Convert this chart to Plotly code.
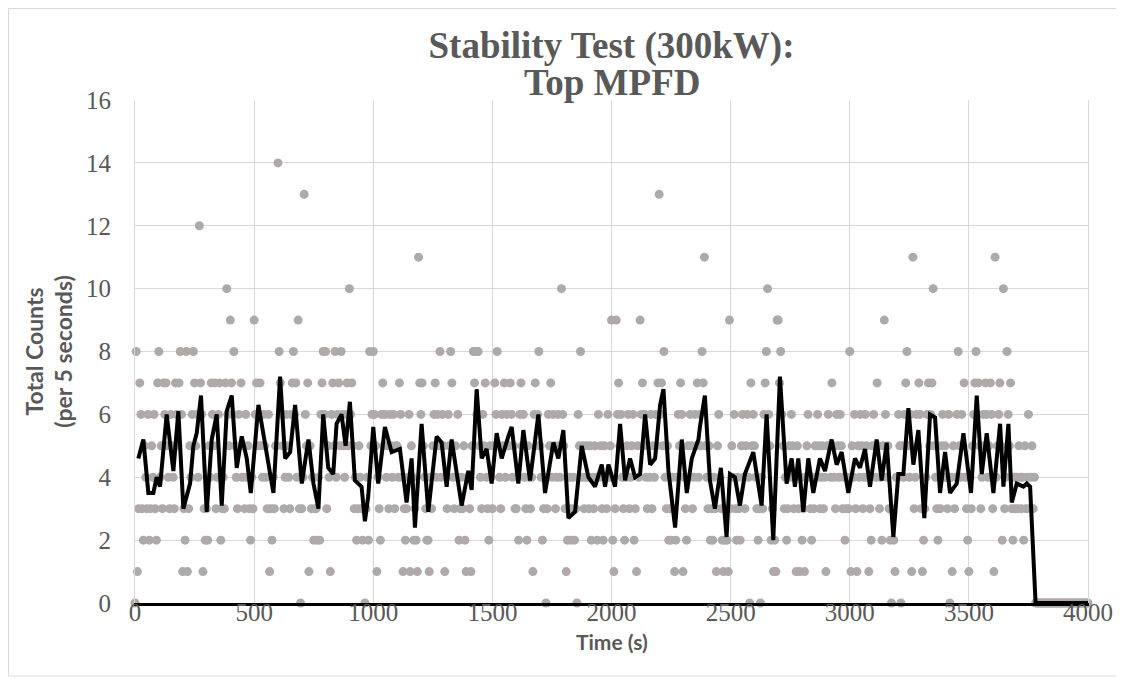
import plotly.graph_objects as go

# ---- scatter data: total counts per 5 s bin (t = 0, 5, 10, ...) ----
counts = (
    [0, 8, 1, 3, 7, 6, 3, 2, 5, 4, 3, 6, 2, 3, 5, 4, 6, 3, 2, 7] +        # 0-95
    [8, 4, 5, 3, 7, 6, 7, 5, 4, 3, 6, 5, 4, 3, 7, 6, 5, 7, 8, 6] +        # 100
    [1, 3, 2, 8, 1, 3, 5, 4, 6, 8, 7, 5, 6, 4, 12, 7, 6, 1, 3, 2] +       # 200
    [3, 2, 5, 4, 7, 6, 5, 7, 3, 4, 6, 7, 2, 3, 4, 3, 7, 10, 6, 5] +       # 300
    [9, 7, 6, 8, 5, 4, 3, 6, 5, 7, 4, 5, 3, 6, 4, 5, 3, 2, 4, 3] +        # 400
    [9, 6, 7, 5, 6, 7, 5, 4, 6, 5, 4, 3, 6, 1, 3, 2, 4, 3, 5, 5] +        # 500
    [14, 8, 7, 6, 5, 3, 4, 6, 5, 4, 3, 6, 7, 8, 6, 7, 4, 9, 3, 0] +       # 600
    [3, 4, 13, 6, 5, 7, 1, 5, 3, 4, 2, 3, 3, 2, 4, 2, 6, 7, 8, 6] +       # 700
    [8, 3, 5, 4, 1, 6, 7, 5, 8, 4, 6, 7, 5, 8, 6, 5, 4, 6, 7, 5] +        # 800
    [10, 6, 7, 5, 3, 4, 2, 3, 5, 4, 3, 2, 3, 0, 3, 4, 2, 8, 5, 6] +       # 900
    [8, 6, 5, 1, 4, 3, 2, 6, 7, 5, 6, 4, 5, 3, 6, 5, 4, 6, 3, 5] +        # 1000
    [5, 4, 7, 6, 4, 1, 3, 2, 3, 4, 6, 1, 5, 4, 2, 3, 2, 1, 11, 7] +       # 1100
    [6, 7, 5, 4, 3, 2, 2, 1, 4, 3, 5, 6, 7, 4, 6, 5, 8, 4, 6, 5] +        # 1200
    [1, 4, 3, 6, 5, 8, 7, 4, 3, 5, 4, 6, 2, 3, 4, 3, 5, 2, 1, 4] +        # 1300
    [4, 3, 1, 5, 8, 7, 8, 6, 8, 5, 4, 3, 6, 5, 7, 4, 3, 2, 5, 4] +        # 1400
    [3, 5, 7, 6, 8, 5, 4, 3, 6, 5, 7, 4, 6, 5, 5, 7, 6, 4, 5, 3] +        # 1500
    [3, 4, 2, 6, 7, 5, 6, 4, 3, 2, 5, 4, 3, 4, 1, 6, 7, 5, 6, 8] +        # 1600
    [5, 4, 2, 3, 4, 0, 3, 6, 5, 7, 4, 6, 5, 3, 4, 6, 5, 4, 10, 6] +       # 1700
    [5, 3, 1, 2, 3, 4, 2, 3, 4, 2, 3, 0, 6, 5, 8, 4, 5, 3, 4, 5] +        # 1800
    [4, 3, 5, 2, 4, 3, 5, 4, 2, 6, 4, 5, 3, 2, 5, 4, 3, 6, 4, 5] +        # 1900
    [9, 2, 1, 3, 9, 6, 7, 5, 6, 4, 3, 2, 4, 5, 6, 3, 4, 5, 6, 2] +        # 2000
    [3, 1, 5, 4, 9, 6, 7, 5, 6, 4, 3, 5, 4, 6, 3, 5, 4, 6, 5, 7] +        # 2100
    [13, 6, 7, 5, 8, 4, 3, 5, 2, 3, 2, 4, 3, 1, 2, 4, 6, 5, 7, 6] +       # 2200
    [1, 4, 3, 2, 5, 4, 6, 5, 3, 4, 6, 5, 7, 4, 6, 5, 8, 7, 11, 5] +       # 2300
    [4, 3, 5, 2, 3, 2, 4, 3, 1, 5, 6, 4, 3, 2, 1, 2, 3, 2, 1, 9] +        # 2400
    [3, 5, 4, 6, 3, 2, 4, 3, 2, 5, 6, 4, 3, 5, 6, 4, 0, 7, 5, 6] +        # 2500
    [5, 4, 3, 2, 3, 0, 4, 3, 6, 7, 8, 10, 6, 5, 2, 3, 1, 2, 1, 9] +       # 2600
    [9, 7, 8, 6, 5, 3, 4, 2, 3, 5, 4, 6, 5, 3, 4, 1, 5, 3, 1, 4] +        # 2700
    [2, 3, 1, 4, 5, 6, 4, 3, 2, 4, 3, 5, 4, 6, 5, 3, 4, 5, 3, 4] +        # 2800
    [1, 5, 6, 5, 4, 7, 5, 4, 3, 6, 5, 4, 6, 5, 3, 4, 2, 3, 4, 3] +        # 2900
    [8, 1, 5, 4, 6, 3, 1, 5, 4, 6, 5, 3, 4, 6, 5, 4, 1, 3, 2, 5] +        # 3000
    [6, 5, 4, 7, 5, 3, 4, 2, 5, 9, 6, 4, 5, 3, 2, 0, 3, 2, 1, 4] +        # 3100
    [4, 6, 5, 0, 5, 4, 6, 7, 8, 5, 4, 6, 1, 11, 3, 4, 6, 5, 7, 6] +       # 3200
    [3, 1, 2, 3, 4, 6, 7, 5, 6, 7, 10, 5, 4, 3, 2, 4, 3, 5, 6, 4] +       # 3300
    [5, 4, 3, 6, 0, 4, 1, 5, 3, 4, 6, 8, 5, 4, 6, 5, 7, 4, 3, 2] +        # 3400
    [1, 4, 3, 5, 6, 7, 8, 6, 7, 5, 3, 4, 6, 5, 7, 6, 4, 5, 7, 6] +        # 3500
    [3, 1, 11, 4, 5, 6, 7, 5, 2, 10, 3, 4, 8, 6, 5, 7, 3, 2, 4, 3] +      # 3600
    [4, 3, 5, 4, 3, 4, 2, 5, 3, 4, 6, 3, 4, 5, 3, 4, 0, 0, 0, 0] +        # 3700
    [0] * 41                                                             # 3800-4000
)
bin_seconds = 5
times = [i * bin_seconds for i in range(len(counts))]

# ---- moving-average trend line ----
avg_t = [14, 35, 56, 77, 91, 105, 133, 161, 182, 203, 231, 245, 259, 277, 301, 322, 343, 364,
         385, 406, 427, 448, 469, 486, 518, 546, 581, 609, 630, 651, 672, 700, 728, 749, 770,
         790, 811, 832, 846, 867, 884, 902, 923, 951, 965, 979, 1000, 1021, 1049, 1077, 1112,
         1140, 1161, 1175, 1203, 1231, 1266, 1287, 1308, 1329, 1350, 1371, 1399, 1413, 1434,
         1455, 1476, 1497, 1518, 1539, 1567, 1581, 1609, 1630, 1658, 1693, 1721, 1756, 1777,
         1798, 1819, 1847, 1875, 1903, 1931, 1959, 1973, 1987, 2015, 2036, 2057, 2078, 2099,
         2120, 2141, 2162, 2183, 2204, 2218, 2239, 2267, 2295, 2316, 2337, 2365, 2371, 2392,
         2413, 2434, 2459, 2483, 2497, 2518, 2539, 2560, 2595, 2630, 2651, 2679, 2707, 2735,
         2756, 2770, 2784, 2805, 2826, 2847, 2875, 2896, 2924, 2945, 2966, 2994, 3022, 3043,
         3064, 3085, 3113, 3134, 3155, 3183, 3204, 3225, 3246, 3267, 3288, 3313, 3337, 3358,
         3379, 3400, 3421, 3449, 3477, 3509, 3533, 3554, 3575, 3603, 3631, 3645, 3666, 3680,
         3701, 3729, 3743, 3757, 3770, 3780, 4000]
avg_v = [4.6, 5.2, 3.5, 3.5, 4.0, 3.7, 6.0, 4.2, 6.1, 3.0, 3.8, 5.0, 5.4, 6.6, 2.9, 5.2, 6.0, 3.1,
         6.1, 6.6, 4.3, 5.3, 4.6, 3.5, 6.3, 5.0, 3.5, 7.2, 4.6, 4.8, 6.3, 3.8, 5.2, 3.8, 3.0,
         6.0, 4.3, 4.1, 5.7, 6.0, 5.0, 6.4, 3.9, 3.7, 2.6, 3.4, 5.6, 3.8, 5.6, 4.8, 4.9,
         3.2, 4.6, 2.4, 5.7, 2.9, 5.3, 5.1, 3.7, 5.2, 4.2, 3.1, 4.2, 3.6, 6.8,
         4.6, 4.9, 3.8, 5.4, 4.6, 5.3, 5.6, 3.8, 5.5, 3.9, 6.0, 3.5, 5.1, 4.6,
         5.5, 2.7, 2.9, 5.0, 4.0, 3.7, 4.4, 3.7, 4.4, 3.7, 5.7, 3.9, 4.6, 4.0,
         4.1, 6.0, 4.4, 4.6, 6.3, 6.8, 4.2, 2.4, 5.2, 3.5, 4.6, 5.2, 5.6, 6.6,
         3.9, 3.0, 4.3, 2.1, 4.1, 4.0, 3.1, 4.1, 4.8, 3.1, 6.0, 2.0, 7.2, 3.8,
         4.6, 3.7, 4.6, 2.9, 4.6, 3.5, 4.6, 4.2, 5.2, 4.4, 4.8, 3.5, 4.6, 4.3,
         4.9, 3.7, 5.2, 3.9, 5.1, 2.1, 4.1, 4.1, 6.2, 4.4, 5.5, 2.7, 6.0, 5.9,
         3.5, 4.8, 3.5, 3.8, 5.4, 3.5, 6.6, 4.1, 5.4, 3.5, 5.7, 3.7, 5.7, 3.2,
         3.8, 3.7, 3.8, 3.7, 1.2, 0.0, 0.0]

x_ticks = [0, 500, 1000, 1500, 2000, 2500, 3000, 3500, 4000]
y_ticks = [0, 2, 4, 6, 8, 10, 12, 14, 16]

# page has an 8px body margin, so the figure is laid out in its own coordinates
W, H = 1116, 671
L, T = 127, 92
pw, ph = 953, 503
R, B = W - L - pw, H - T - ph
plot_bottom = T + ph


def py(yfig):
    return (plot_bottom - yfig) / ph


fig = go.Figure()
fig.add_trace(go.Scatter(
    x=times, y=counts, mode="markers",
    marker=dict(color="#AEAAAA", size=9, line=dict(width=0)),
    cliponaxis=False, showlegend=False))
fig.add_trace(go.Scatter(
    x=avg_t, y=avg_v, mode="lines",
    line=dict(color="black", width=4),
    cliponaxis=False, showlegend=False))

title_font = dict(family="Liberation Serif", size=37, color="#595959")
axis_title_font = dict(family="Lato", size=23, color="#595959")
fig.update_layout(
    width=W, height=H,
    margin=dict(l=L, r=R, t=T, b=B, autoexpand=False),
    paper_bgcolor="white", plot_bgcolor="white",
    title=dict(
        text="<b>Stability Test (300kW):</b>",
        font=title_font,
        x=(L + pw / 2) / W, xanchor="center",
        y=1 - 37 / H, yanchor="middle", yref="container"),
    xaxis=dict(
        range=[0, 4000], tickvals=x_ticks, ticktext=[str(v) for v in x_ticks],
        showgrid=True, gridcolor="#D9D9D9", gridwidth=1, zeroline=False,
        showline=True, linecolor="black", linewidth=2.5,
        ticks="", ticklabelstandoff=-15,
        tickfont=dict(family="Liberation Serif", size=25, color="#595959"),
        automargin=False),
    yaxis=dict(
        range=[0, 16], tickvals=y_ticks, ticktext=[str(v) for v in y_ticks],
        showgrid=True, gridcolor="#D9D9D9", gridwidth=1, zeroline=False,
        showline=True, linecolor="#D9D9D9", linewidth=1, mirror=True,
        ticks="", ticklabelstandoff=18,
        tickfont=dict(family="Liberation Serif", size=25, color="#595959"),
        title=dict(text="<b>Total Counts<br>(per 5 seconds)</b>", standoff=6,
                   font=axis_title_font),
        automargin=False),
)

fig.add_annotation(
    text="<b>Top MPFD</b>", xref="paper", yref="paper",
    x=0.5, y=py(74), xanchor="center", yanchor="middle",
    showarrow=False, font=title_font)

fig.add_annotation(
    text="<b>Time (s)</b>", xref="paper", yref="paper",
    x=0.5, y=py(633), xanchor="center", yanchor="middle",
    showarrow=False, font=dict(family="Lato", size=21, color="#595959"))

fig.add_shape(type="rect", xref="paper", yref="paper",
              x0=(0.5 - L) / pw, x1=(1112 - L) / pw,
              y0=py(668), y1=py(0.5),
              line=dict(color="#D9D9D9", width=1), fillcolor="rgba(0,0,0,0)", layer="below")

fig.write_html("out.html")
